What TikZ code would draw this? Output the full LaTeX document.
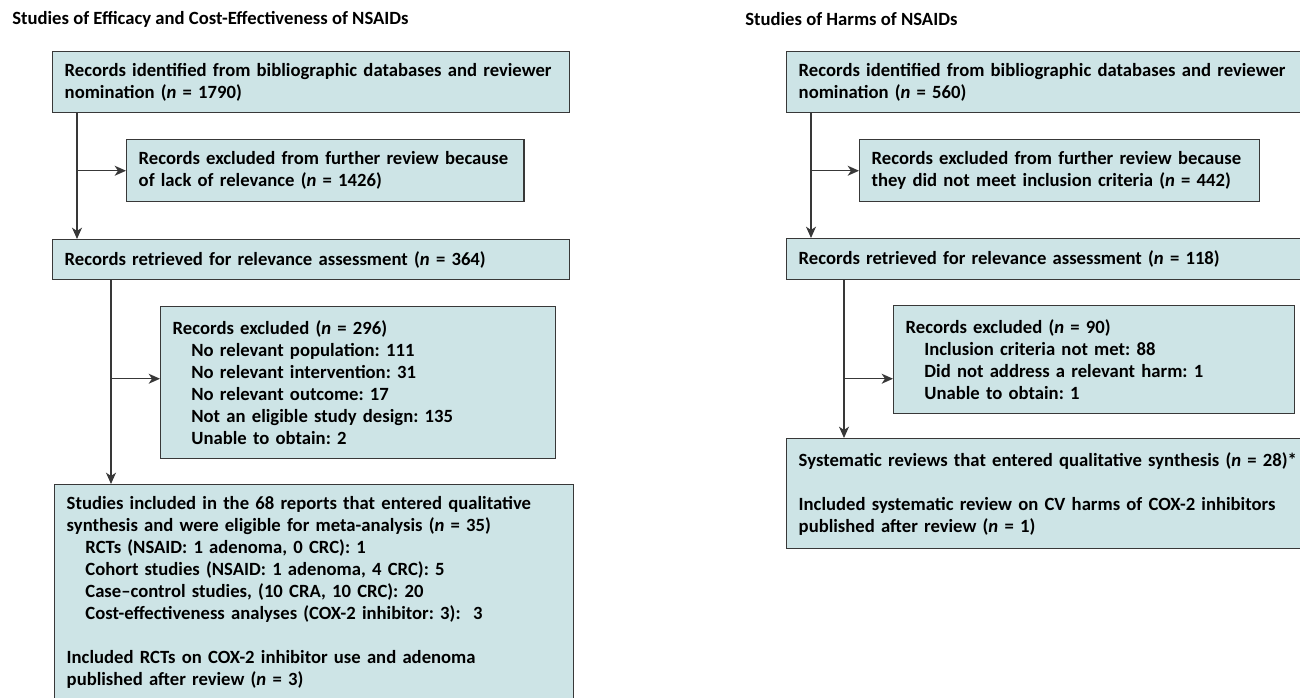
\documentclass[tikz,border=0pt]{standalone}
\usepackage{fontspec}
\setmainfont{Carlito}
\usetikzlibrary{positioning,arrows.meta,calc}
\usepackage{xcolor}

\definecolor{boxfill}{HTML}{CDE4E6}
\definecolor{boxline}{HTML}{383838}

\newcommand{\ind}{\hspace*{14pt}}
\newcommand{\nn}{\textit{n}}
\frenchspacing

\begin{document}
\begin{tikzpicture}[x=0.75pt,y=-0.75pt,>={Stealth[length=8.5pt,width=7.5pt,inset=2.5pt]},
  font=\fontsize{14}{16.5}\selectfont\bfseries,
  box/.style={draw=boxline,fill=boxfill,line width=1.1pt,anchor=north west,
    inner xsep=9pt,inner ysep=0pt,align=left,
    execute at begin node={\hyphenpenalty=10000}},
  link/.style={draw=boxline,line width=1.1pt}]

\clip (0,0) rectangle (1300,698);

% titles
\node[anchor=west,inner sep=0pt] (efftitle) at (12,19) {Studies of Efficacy and Cost-Effectiveness of NSAIDs};
\node[anchor=west,inner sep=0pt] (harmtitle) at (745,19) {Studies of Harms of NSAIDs};

% efficacy and cost-effectiveness boxes
\node[box,text width=369.75pt,minimum height=45.75pt] (effid) at (52,51)
  {Records identified from bibliographic databases and reviewer\\nomination (\nn{} = 1790)};
\node[box,text width=280pt,minimum height=46.5pt] (effex) at (126,139)
  {Records excluded from further review because\\of lack of relevance (\nn{} = 1426)};
\node[box,text width=369.75pt,minimum height=30pt] (effret) at (52,239)
  {Records retrieved for relevance assessment (\nn{} = 364)};
\node[box,text width=278.25pt,minimum height=114pt] (effrec) at (160,306)
  {Records excluded (\nn{} = 296)\\
   \ind No relevant population: 111\\
   \ind No relevant intervention: 31\\
   \ind No relevant outcome: 17\\
   \ind Not an eligible study design: 135\\
   \ind Unable to obtain: 2};
\node[box,text width=371.25pt,minimum height=162pt] (effinc) at (54,484)
  {Studies included in the 68 reports that entered qualitative\\
   synthesis and were eligible for meta-analysis (\nn{} = 35)\\
   \ind RCTs (NSAID: 1 adenoma, 0 CRC): 1\\
   \ind Cohort studies (NSAID: 1 adenoma, 4 CRC): 5\\
   \ind Case--control studies, (10 CRA, 10 CRC): 20\\
   \ind Cost-effectiveness analyses (COX-2 inhibitor: 3):\ \ 3\\[16.5pt]
   Included RCTs on COX-2 inhibitor use and adenoma\\
   published after review (\nn{} = 3)};

% harms boxes
\node[box,text width=369.75pt,minimum height=45.75pt] (harmid) at (786,51)
  {Records identified from bibliographic databases and reviewer\\nomination (\nn{} = 560)};
\node[box,text width=282pt,minimum height=46.5pt] (harmex) at (859,139)
  {Records excluded from further review because\\they did not meet inclusion criteria (\nn{} = 442)};
\node[box,text width=369.75pt,minimum height=30.75pt] (harmret) at (786,238)
  {Records retrieved for relevance assessment (\nn{} = 118)};
\node[box,text width=282.75pt,minimum height=81pt] (harmrec) at (893,305)
  {Records excluded (\nn{} = 90)\\
   \ind Inclusion criteria not met: 88\\
   \ind Did not address a relevant harm: 1\\
   \ind Unable to obtain: 1};
\node[box,text width=390pt,minimum height=82.5pt] (harminc) at (786,438)
  {Systematic reviews that entered qualitative synthesis (\nn{} = 28)*\\[16.5pt]
   Included systematic review on CV harms of COX-2 inhibitors\\
   published after review (\nn{} = 1)};

% efficacy connectors
\coordinate (ta) at ($(effid.south west)+(25,0)$);
\coordinate (tb) at ($(effret.south west)+(59,0)$);
\draw[link,->] (ta) -- (ta |- effret.north);
\draw[link,->] (ta |- effex.west) -- (effex.west);
\draw[link,->] (tb) -- (tb |- effinc.north);
\draw[link,->] ($(tb |- effrec.west)+(0,-4)$) -- ($(effrec.west)+(0,-4)$);

% harms connectors
\coordinate (tc) at ($(harmid.south west)+(25,0)$);
\coordinate (td) at ($(harmret.south west)+(58,0)$);
\draw[link,->] (tc) -- (tc |- harmret.north);
\draw[link,->] (tc |- harmex.west) -- (harmex.west);
\draw[link,->] (td) -- (td |- harminc.north);
\draw[link,->] ($(td |- harmrec.west)+(0,19)$) -- ($(harmrec.west)+(0,19)$);

\end{tikzpicture}
\end{document}
